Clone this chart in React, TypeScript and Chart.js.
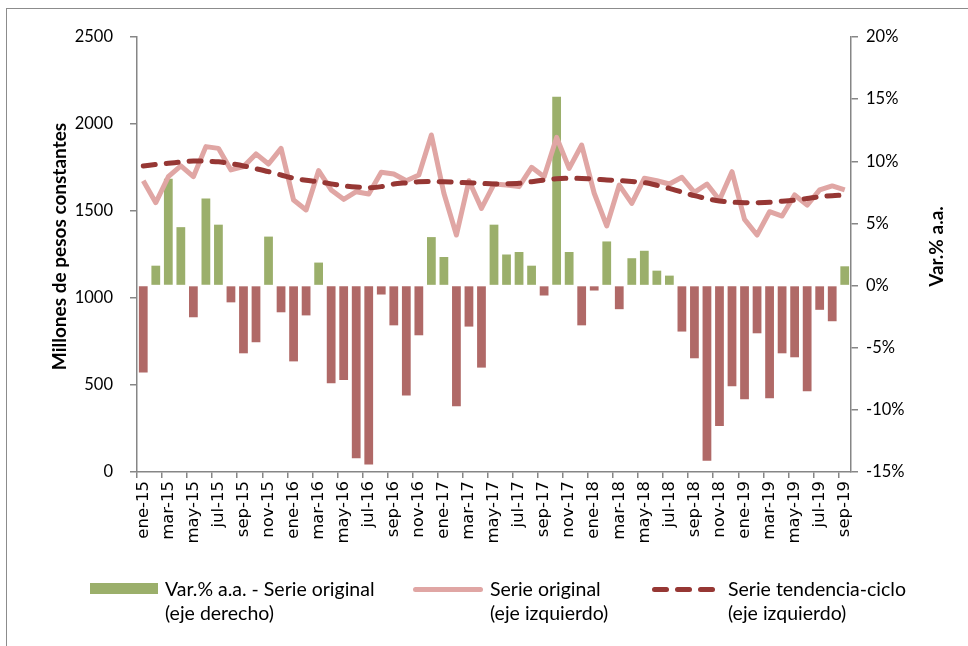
import React, { useEffect, useRef } from "react";
import { Chart, registerables } from "chart.js";

Chart.register(...registerables);

const categories = [
  "ene-15","feb-15","mar-15","abr-15","may-15","jun-15","jul-15","ago-15","sep-15","oct-15","nov-15","dic-15",
  "ene-16","feb-16","mar-16","abr-16","may-16","jun-16","jul-16","ago-16","sep-16","oct-16","nov-16","dic-16",
  "ene-17","feb-17","mar-17","abr-17","may-17","jun-17","jul-17","ago-17","sep-17","oct-17","nov-17","dic-17",
  "ene-18","feb-18","mar-18","abr-18","may-18","jun-18","jul-18","ago-18","sep-18","oct-18","nov-18","dic-18",
  "ene-19","feb-19","mar-19","abr-19","may-19","jun-19","jul-19","ago-19","sep-19",
];

// Var.% a.a. - Serie original (eje derecho)
const varPct = [
  -7.0, 1.6, 8.6, 4.7, -2.55, 7.0, 4.9, -1.35, -5.45, -4.56, 3.94, -2.15,
  -6.1, -2.4, 1.85, -7.86, -7.6, -13.9, -14.4, -0.72, -3.2, -8.85, -4.0, 3.9,
  2.3, -9.7, -3.3, -6.6, 4.9, 2.5, 2.7, 1.6, -0.8, 15.2, 2.7, -3.2,
  -0.4, 3.55, -1.9, 2.2, 2.8, 1.2, 0.8, -3.7, -5.85, -14.1, -11.3, -8.1,
  -9.15, -3.84, -9.07, -5.45, -5.77, -8.5, -1.95, -2.87, 1.55,
];

// Serie original (eje izquierdo)
const serieOriginal = [
  1674, 1548, 1697, 1759, 1697, 1870, 1860, 1736, 1755, 1828, 1770, 1860,
  1563, 1506, 1732, 1621, 1567, 1611, 1598, 1723, 1713, 1674, 1707, 1937,
  1602, 1362, 1674, 1515, 1655, 1649, 1640, 1751, 1697, 1923, 1745, 1879,
  1602, 1414, 1649, 1544, 1688, 1674, 1655, 1694, 1607, 1655, 1563, 1726,
  1452, 1362, 1496, 1471, 1592, 1534, 1621, 1644, 1621,
];

// Serie tendencia-ciclo (eje izquierdo)
const serieTendencia = [
  1759, 1767, 1774, 1781, 1787, 1786, 1783, 1772, 1759, 1743, 1726, 1707,
  1688, 1677, 1668, 1656, 1645, 1638, 1634, 1640, 1655, 1662, 1668, 1669,
  1668, 1665, 1663, 1659, 1655, 1656, 1659, 1668, 1678, 1685, 1688, 1687,
  1684, 1678, 1675, 1670, 1663, 1648, 1630, 1609, 1588, 1571, 1557, 1551,
  1548, 1548, 1550, 1556, 1563, 1572, 1582, 1588, 1592,
];

const leftTicks = { min: 0, max: 2500, step: 500 };
const rightTicks = { min: -15, max: 20, step: 5 };

const GREEN = "#9BAF6B";
const RED = "#B06967";
const PINK = "#E0A6A4";
const DARK = "#963734";
const AXIS = "#868686";
const FONT = "Lato";

const titlesPlugin = {
  id: "axisTitles",
  afterDraw(chart: any) {
    const ctx = chart.ctx;
    const area = chart.chartArea;
    const mid = (area.top + area.bottom) / 2 - 8;
    const draw = (text: string, x: number) => {
      ctx.save();
      ctx.fillStyle = "#000";
      ctx.font = `bold 19px ${FONT}`;
      ctx.textAlign = "center";
      ctx.textBaseline = "middle";
      ctx.translate(x, mid);
      ctx.rotate(-Math.PI / 2);
      ctx.fillText(text, 0, 0);
      ctx.restore();
    };
    draw("Millones de pesos constantes", 60);
    draw("Var.% a.a.", 937);

    // category labels (every second month), rotated
    const xs = chart.scales.x;
    ctx.save();
    ctx.fillStyle = "#000";
    ctx.font = `16.5px "DejaVu Sans"`;
    ctx.textAlign = "right";
    ctx.textBaseline = "middle";
    categories.forEach((lab, i) => {
      if (i % 2 !== 0) return;
      const x = xs.getPixelForValue(i);
      ctx.save();
      ctx.translate(x, area.bottom + 9);
      ctx.rotate(-Math.PI / 2);
      ctx.fillText(lab, 0, 0);
      ctx.restore();
    });
    ctx.restore();
  },
};

export default function App() {
  const ref = useRef<HTMLCanvasElement | null>(null);

  useEffect(() => {
    if (!ref.current) return;
    const chart = new Chart(ref.current, {
      type: "bar",
      data: {
        labels: categories,
        datasets: [
          {
            type: "line",
            label: "Serie tendencia-ciclo",
            data: serieTendencia,
            yAxisID: "y",
            borderColor: DARK,
            borderWidth: 5,
            borderDash: [12, 11],
            borderCapStyle: "round",
            pointRadius: 0,
            tension: 0.3,
            fill: false,
            order: 0,
          } as any,
          {
            type: "line",
            label: "Serie original",
            data: serieOriginal,
            yAxisID: "y",
            borderColor: PINK,
            borderWidth: 5,
            borderJoinStyle: "round",
            pointRadius: 0,
            tension: 0,
            fill: false,
            order: 1,
          } as any,
          {
            type: "bar",
            label: "Var.% a.a. - Serie original",
            data: varPct,
            yAxisID: "y1",
            backgroundColor: varPct.map((v) => (v >= 0 ? GREEN : RED)),
            borderWidth: 0,
            barPercentage: 0.7,
            categoryPercentage: 1,
            order: 2,
          } as any,
        ],
      },
      options: {
        responsive: false,
        animation: false,
        layout: { padding: { top: 37, left: 0, right: 0, bottom: 0 } },
        plugins: { legend: { display: false }, tooltip: { enabled: false } },
        scales: {
          x: {
            type: "category",
            offset: true,
            grid: {
              offset: true,
              drawOnChartArea: false,
              drawTicks: true,
              tickLength: 6,
              lineWidth: 1.5,
              color: (c: any) => (c.index % 2 === 0 ? AXIS : "rgba(0,0,0,0)"),
            },
            border: { display: true, color: AXIS, width: 1.5 },
            ticks: {
              autoSkip: false,
              maxRotation: 90,
              minRotation: 90,
              padding: 3,
              color: "rgba(0,0,0,0)",
              callback: () => "",
            },
            afterFit: (s: any) => {
              s.height = 174;
            },
          },
          y: {
            position: "left",
            min: leftTicks.min,
            max: leftTicks.max,
            grid: { drawOnChartArea: false, tickLength: 7, color: AXIS, lineWidth: 1.5 },
            border: { display: true, color: AXIS, width: 1.5 },
            ticks: {
              stepSize: leftTicks.step,
              padding: 17,
              color: "#000",
              font: { family: FONT, size: 16.5 },
              callback: (v: any) => String(v),
            },
            afterFit: (s: any) => {
              s.width = 137;
            },
          },
          y1: {
            position: "right",
            min: rightTicks.min,
            max: rightTicks.max,
            grid: { drawOnChartArea: false, tickLength: 7, color: AXIS, lineWidth: 1.5 },
            border: { display: true, color: AXIS, width: 1.5 },
            ticks: {
              stepSize: rightTicks.step,
              padding: 8,
              color: "#000",
              font: { family: FONT, size: 16.5 },
              callback: (v: any) => `${v}%`,
            },
            afterFit: (s: any) => {
              s.width = 117;
            },
          },
        },
      } as any,
      plugins: [titlesPlugin],
    });
    return () => chart.destroy();
  }, []);

  const textStyle: React.CSSProperties = {
    position: "absolute",
    top: 577,
    fontFamily: FONT,
    fontSize: 19.5,
    lineHeight: "24px",
    color: "#000",
    whiteSpace: "nowrap",
  };

  return (
    <div style={{ position: "absolute", left: 0, top: 0, width: 968, height: 646, background: "#fff", overflow: "hidden" }}>
      <div style={{ position: "absolute", left: 6, top: 8, width: 970, height: 650, borderTop: "1px solid #8c8c8c", borderLeft: "1px solid #8c8c8c" }} />
      <canvas ref={ref} width={968} height={646} style={{ position: "absolute", left: 0, top: 0, width: 968, height: 646 }} />
      <div style={{ position: "absolute", left: 90, top: 583, width: 68, height: 11, background: GREEN }} />
      <div style={{ ...textStyle, left: 165 }}>Var.% a.a. - Serie original<br />(eje derecho)</div>
      <div style={{ position: "absolute", left: 413, top: 587, width: 70, height: 5, background: PINK, borderRadius: 3 }} />
      <div style={{ ...textStyle, left: 490 }}>Serie original<br />(eje izquierdo)</div>
      <div style={{ position: "absolute", left: 652, top: 587, width: 17, height: 5, background: DARK, borderRadius: 3 }} />
      <div style={{ position: "absolute", left: 675, top: 587, width: 17, height: 5, background: DARK, borderRadius: 3 }} />
      <div style={{ position: "absolute", left: 698, top: 587, width: 17, height: 5, background: DARK, borderRadius: 3 }} />
      <div style={{ ...textStyle, left: 728 }}>Serie tendencia-ciclo<br />(eje izquierdo)</div>
    </div>
  );
}
